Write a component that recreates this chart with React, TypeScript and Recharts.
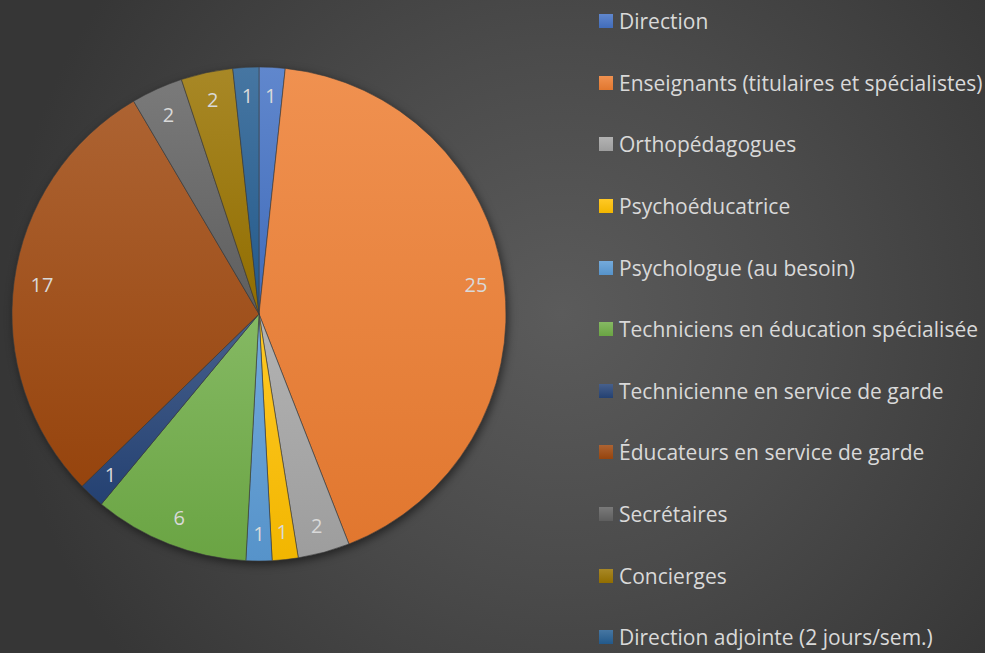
import React from 'react';
import { PieChart, Pie, Cell, Legend } from 'recharts';

const CATEGORIES = [
  'Direction',
  'Enseignants (titulaires et spécialistes)',
  'Orthopédagogues',
  'Psychoéducatrice',
  'Psychologue (au besoin)',
  'Techniciens en éducation spécialisée',
  'Technicienne en service de garde',
  'Éducateurs en service de garde',
  'Secrétaires',
  'Concierges',
  'Direction adjointe (2 jours/sem.)',
];
const VALUES = [1, 25, 2, 1, 1, 6, 1, 17, 2, 2, 1];

const COLORS = ['#4472C4', '#ED7D31', '#A5A5A5', '#FFC000', '#5B9BD5', '#70AD47', '#264478', '#9E480E', '#636363', '#997300', '#255E91'];

const data = CATEGORIES.map((name, i) => ({ name, value: VALUES[i] }));

const FONT = '"Open Sans", sans-serif';
const TEXT = '#D9D9D9';
const RADIAN = Math.PI / 180;

const mix = (hex: string, target: number, t: number) => {
  const n = parseInt(hex.slice(1), 16);
  const ch = [(n >> 16) & 255, (n >> 8) & 255, n & 255].map((c) => Math.round(c + (target - c) * t));
  return '#' + ch.map((c) => c.toString(16).padStart(2, '0')).join('');
};

const renderLabel = (props: any) => {
  const { cx, cy, midAngle, outerRadius, value } = props;
  const r = outerRadius - 28;
  const x = cx + r * Math.cos(-midAngle * RADIAN);
  const y = cy + r * Math.sin(-midAngle * RADIAN);
  return (
    <text x={x} y={y} fill={TEXT} fontSize={20} fontFamily={FONT} textAnchor="middle" dominantBaseline="central">
      {value}
    </text>
  );
};

const renderLegend = () => (
  <div style={{ fontFamily: FONT, color: TEXT, fontSize: 21 }}>
    {CATEGORIES.map((name, i) => (
      <div key={name} style={{ height: 61.6, display: 'flex', alignItems: 'center', whiteSpace: 'nowrap' }}>
        <span
          style={{
            display: 'inline-block',
            flex: 'none',
            width: 14,
            height: 14,
            marginRight: 6,
            background: `linear-gradient(${mix(COLORS[i], 255, 0.15)}, ${mix(COLORS[i], 0, 0.05)})`,
          }}
        />
        {name}
      </div>
    ))}
  </div>
);

export default function App() {
  return (
    <div
      style={{
        position: 'absolute',
        left: 0,
        top: 0,
        width: 985,
        height: 653,
        overflow: 'hidden',
        background: 'radial-gradient(circle at 57% 48%, #5b5b5b 0%, #4b4b4b 40%, #363636 85%)',
      }}
    >
      <style>{`.recharts-pie { filter: drop-shadow(2px 3px 4px rgba(0,0,0,0.5)); }`}</style>
      <PieChart width={985} height={653}>
        <defs>
          {COLORS.map((c, i) => (
            <linearGradient key={i} id={`g${i}`} x1="0" y1="0" x2="0" y2="1">
              <stop offset="0%" stopColor={mix(c, 255, 0.15)} />
              <stop offset="100%" stopColor={mix(c, 0, 0.05)} />
            </linearGradient>
          ))}
        </defs>
        <Pie
          data={data}
          dataKey="value"
          nameKey="name"
          cx={254}
          cy={309}
          outerRadius={247}
          startAngle={90}
          endAngle={-270}
          label={renderLabel}
          labelLine={false}
          isAnimationActive={false}
        >
          {data.map((d, i) => (
            <Cell key={d.name} fill={`url(#g${i})`} stroke="#3c3c3c" strokeWidth={0.6} />
          ))}
        </Pie>
        <Legend
          layout="vertical"
          verticalAlign="top"
          align="right"
          content={renderLegend}
          wrapperStyle={{ left: 599, top: -9.5, width: 386 }}
        />
      </PieChart>
    </div>
  );
}
